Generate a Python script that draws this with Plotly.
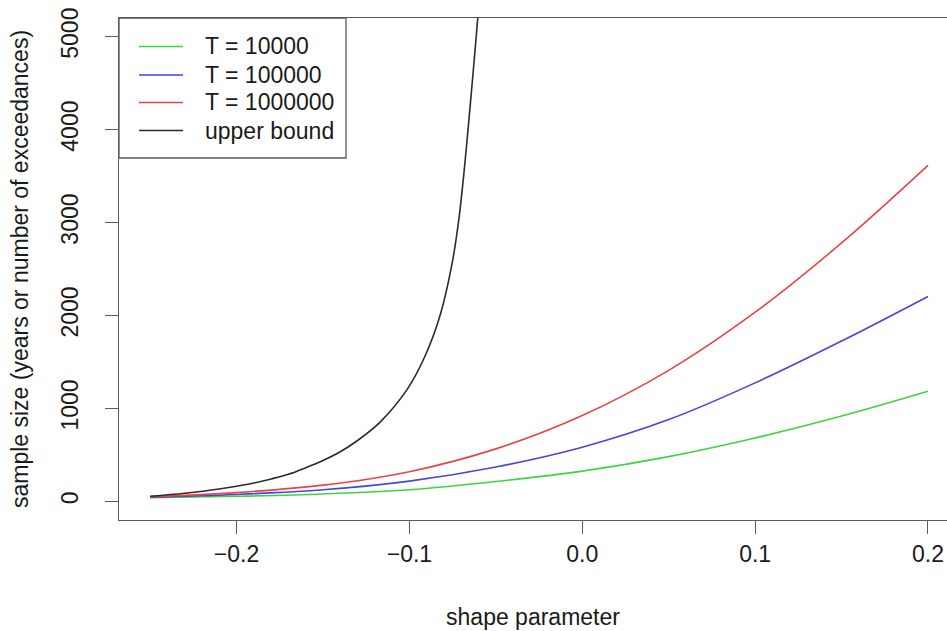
import plotly.graph_objects as go

# Sample size needed versus GEV shape parameter, for three return periods
shape_t = [-0.25, -0.2, -0.15, -0.1, -0.05, 0.0, 0.05, 0.1, 0.15, 0.2]
n_t10000 = [40, 55, 80, 125, 214, 326, 482, 682, 918, 1185]
n_t100000 = [45, 75, 125, 218, 370, 583, 880, 1275, 1725, 2205]
n_t1000000 = [50, 95, 175, 320, 565, 924, 1410, 2035, 2780, 3615]

# Upper bound curve (rises steeply and leaves the plotting region)
shape_ub = [-0.25, -0.23, -0.21, -0.20, -0.19, -0.18, -0.17, -0.16, -0.15,
            -0.14, -0.13, -0.1168, -0.1013, -0.0908, -0.0821, -0.0753,
            -0.0715, -0.0682, -0.0657, -0.0632, -0.0605, -0.058]
n_ub = [55, 88, 133, 163, 198, 242, 292, 362, 440,
        534, 655, 856, 1205, 1570, 2010, 2560,
        3020, 3580, 4080, 4600, 5188, 5750]

series = [
    ("T = 10000", shape_t, n_t10000, "#3fd43f"),
    ("T = 100000", shape_t, n_t100000, "#4545e0"),
    ("T = 1000000", shape_t, n_t1000000, "#e84444"),
    ("upper bound", shape_ub, n_ub, "#2b2b2b"),
]

x_ticks = [-0.2, -0.1, 0.0, 0.1, 0.2]
y_ticks = [0, 1000, 2000, 3000, 4000, 5000]

FONT = "Liberation Sans, Arial, sans-serif"
TXT = "#1a1a1a"
AX = "#5a5a5a"

# plot region in pixels (used to place the legend box in paper units)
W, H = 947, 631
L, R, T, B = 119, 0, 18, 111
PW, PH = W - L - R, H - T - B


def px_x(px):
    return (px - L) / PW


def px_y(py):
    return (H - B - py) / PH


fig = go.Figure()
for name, xs, ys, col in series:
    fig.add_trace(go.Scatter(
        x=xs, y=ys, name=name, mode="lines", showlegend=False,
        line=dict(color=col, width=1.6, shape="spline", smoothing=1.0),
    ))

# legend: framed box in the top-left corner of the plot region
fig.add_shape(type="rect", xref="paper", yref="paper",
              x0=px_x(119), x1=px_x(346), y0=px_y(158), y1=px_y(18),
              line=dict(color=AX, width=1.3), fillcolor="white", layer="above")
row_y = [46.5, 75, 102.5, 130.5]
for (name, _, _, col), ry in zip(series, row_y):
    fig.add_shape(type="line", xref="paper", yref="paper",
                  x0=px_x(139), x1=px_x(183), y0=px_y(ry), y1=px_y(ry),
                  line=dict(color=col, width=1.6), layer="above")
    fig.add_annotation(xref="paper", yref="paper", x=px_x(203), y=px_y(ry),
                       xanchor="left", yanchor="middle", showarrow=False,
                       text=name, font=dict(size=23, color=TXT))

fig.update_layout(
    width=W, height=H,
    margin=dict(l=L, r=R, t=T, b=B),
    paper_bgcolor="white", plot_bgcolor="white",
    font=dict(family=FONT, size=23, color=TXT),
    showlegend=False,
    xaxis=dict(
        range=[-0.268, 0.211],
        tickvals=x_ticks, tickformat=".1f",
        showgrid=False, zeroline=False,
        showline=True, linecolor=AX, linewidth=1.3, mirror=True,
        ticks="outside", ticklen=13, tickcolor=AX, tickwidth=1.3,
        tickfont=dict(size=23, color=TXT),
        title=dict(text="shape parameter", font=dict(size=23, color=TXT), standoff=43),
    ),
    yaxis=dict(
        range=[-200, 5200],
        tickvals=y_ticks,
        showgrid=False, zeroline=False,
        showline=True, linecolor=AX, linewidth=1.3, mirror=False,
        ticks="outside", ticklen=13, tickcolor=AX, tickwidth=1.3,
        tickangle=-90, ticklabelstandoff=18,
        tickfont=dict(size=23, color=TXT),
        title=dict(text="sample size (years or number of exceedances)",
                   font=dict(size=23, color=TXT), standoff=21),
    ),
)

fig.write_html("out.html")
